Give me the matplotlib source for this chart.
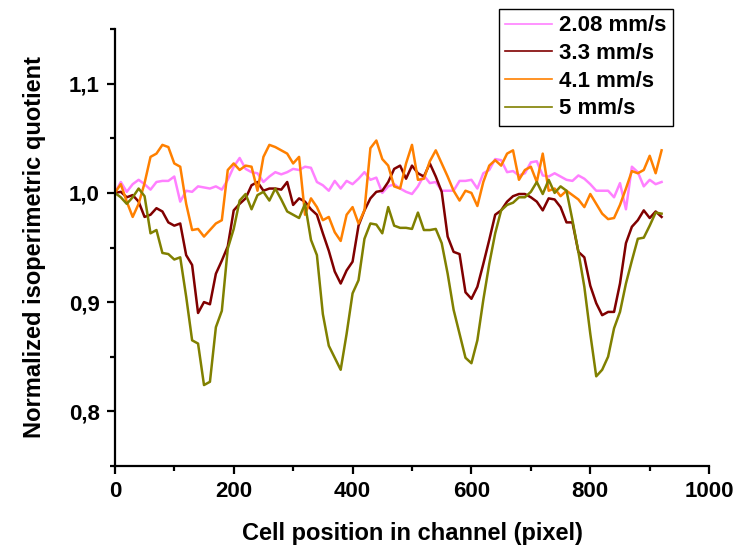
import numpy as np
import matplotlib.pyplot as plt
from matplotlib.ticker import MultipleLocator, FuncFormatter

plt.rcParams["font.family"] = ["Liberation Sans", "DejaVu Sans"]
plt.rcParams["font.weight"] = "bold"

# cell position along the channel, one sample every 10 px
position = np.arange(0, 930, 10)

q_208 = [
    1.000, 1.010, 1.001, 1.008, 1.012, 1.008, 1.003, 1.010, 1.011, 1.011,
    1.015, 0.992, 1.002, 1.001, 1.006, 1.005, 1.004, 1.006, 1.003, 1.012,
    1.024, 1.032, 1.022, 1.019, 1.018, 1.010, 1.015, 1.019, 1.017, 1.019,
    1.022, 1.021, 1.024, 1.023, 1.010, 1.007, 1.002, 1.011, 1.004, 1.011,
    1.008, 1.013, 1.019, 1.012, 1.014, 1.000, 1.006, 1.008, 1.004, 1.001,
    0.999, 1.006, 1.016, 1.009, 1.010, 1.002, 1.002, 1.002, 1.011, 1.011,
    1.012, 1.004, 1.018, 1.021, 1.031, 1.030, 1.019, 1.020, 1.016, 1.018,
    1.028, 1.029, 1.016, 1.015, 1.018, 1.015, 1.012, 1.011, 1.016, 1.013,
    1.008, 1.002, 1.002, 1.002, 0.996, 1.009, 0.985, 1.024, 1.019, 1.006,
    1.012, 1.008, 1.010,
]
q_33 = [
    1.000, 1.001, 0.996, 0.998, 0.992, 0.978, 0.980, 0.986, 0.983, 0.973,
    0.970, 0.972, 0.943, 0.934, 0.890, 0.900, 0.898, 0.926, 0.938, 0.951,
    0.984, 0.990, 0.995, 1.007, 1.010, 1.002, 1.004, 1.004, 1.003, 1.010,
    0.989, 0.995, 0.992, 0.985, 0.980, 0.963, 0.947, 0.928, 0.917, 0.929,
    0.937, 0.970, 0.984, 0.995, 1.001, 1.002, 1.010, 1.022, 1.025, 1.013,
    1.025, 1.018, 1.015, 1.027, 1.015, 1.001, 0.960, 0.946, 0.944, 0.909,
    0.903, 0.914, 0.935, 0.957, 0.980, 0.984, 0.992, 0.997, 0.999, 0.999,
    0.996, 0.992, 0.984, 0.995, 0.994, 0.987, 0.973, 0.973, 0.946, 0.941,
    0.915, 0.899, 0.888, 0.891, 0.891, 0.917, 0.954, 0.969, 0.975, 0.984,
    0.977, 0.983, 0.978,
]
q_41 = [
    1.000, 1.008, 0.992, 0.978, 0.990, 1.009, 1.033, 1.036, 1.044, 1.042,
    1.027, 1.024, 0.990, 0.966, 0.967, 0.960, 0.966, 0.972, 0.975, 1.021,
    1.027, 1.021, 1.025, 1.024, 1.002, 1.033, 1.044, 1.042, 1.039, 1.036,
    1.027, 1.033, 0.980, 0.995, 0.987, 0.975, 0.978, 0.964, 0.956, 0.980,
    0.987, 0.972, 0.984, 1.041, 1.048, 1.031, 1.025, 1.006, 1.004, 1.027,
    1.044, 1.012, 1.013, 1.029, 1.039, 1.027, 1.015, 1.002, 0.993, 1.002,
    1.000, 0.988, 1.010, 1.025, 1.030, 1.025, 1.036, 1.039, 1.012, 1.021,
    1.024, 1.010, 1.036, 1.002, 1.004, 0.997, 1.002, 0.998, 0.994, 0.987,
    0.999, 0.990, 0.981, 0.976, 0.977, 0.989, 1.004, 1.020, 1.018, 1.021,
    1.034, 1.018, 1.039,
]
q_5 = [
    1.000, 0.996, 0.990, 0.996, 1.004, 0.997, 0.963, 0.966, 0.945, 0.944,
    0.939, 0.941, 0.905, 0.865, 0.862, 0.824, 0.827, 0.877, 0.892, 0.949,
    0.967, 0.993, 0.999, 0.985, 0.998, 1.001, 0.993, 1.004, 0.994, 0.983,
    0.980, 0.977, 0.990, 0.957, 0.943, 0.889, 0.860, 0.849, 0.838, 0.871,
    0.908, 0.920, 0.958, 0.972, 0.971, 0.963, 0.987, 0.970, 0.968, 0.968,
    0.967, 0.982, 0.966, 0.966, 0.967, 0.954, 0.926, 0.893, 0.871, 0.849,
    0.844, 0.865, 0.902, 0.935, 0.963, 0.984, 0.989, 0.991, 0.996, 0.996,
    1.001, 1.010, 0.999, 1.012, 1.000, 1.006, 1.002, 0.975, 0.946, 0.914,
    0.871, 0.832, 0.838, 0.850, 0.876, 0.891, 0.917, 0.938, 0.958, 0.959,
    0.970, 0.982, 0.981,
]

series = [
    ("2.08 mm/s", q_208, "#FF80FF"),
    ("3.3 mm/s", q_33, "#800000"),
    ("4.1 mm/s", q_41, "#FF8000"),
    ("5 mm/s", q_5, "#808000"),
]

fig = plt.figure(figsize=(7.41, 5.5), dpi=100)
ax = fig.add_axes([0.155, 0.153, 0.802, 0.794])

for label, values, color in series:
    ax.plot(position, values, color=color, linewidth=1.8, label=label)

ax.set_xlim(0, 1000)
ax.set_ylim(0.75, 1.15)
ax.xaxis.set_major_locator(MultipleLocator(200))
ax.xaxis.set_minor_locator(MultipleLocator(100))
ax.yaxis.set_major_locator(MultipleLocator(0.1))
ax.yaxis.set_minor_locator(MultipleLocator(0.05))
ax.yaxis.set_major_formatter(FuncFormatter(lambda v, _: f"{v:.1f}".replace(".", ",")))

for side in ("top", "right"):
    ax.spines[side].set_visible(False)
for side in ("left", "bottom"):
    ax.spines[side].set_linewidth(1.6)
ax.tick_params(which="major", length=6, width=1.6, labelsize=16, pad=5)
ax.tick_params(which="minor", length=3.5, width=1.6)
for lab in ax.get_xticklabels() + ax.get_yticklabels():
    lab.set_fontweight("bold")

ax.set_xlabel("Cell position in channel (pixel)", fontsize=17, fontweight="bold", labelpad=14)
ax.set_ylabel("Normalized isoperimetric quotient", fontsize=17, fontweight="bold", labelpad=16)

leg = fig.legend(
    loc="upper right",
    bbox_to_anchor=(0.908, 0.984),
    borderaxespad=0,
    fancybox=False,
    edgecolor="black",
    framealpha=1,
    prop={"size": 16, "weight": "bold"},
    handlelength=2.1,
    handletextpad=0.3,
    labelspacing=0.3,
    borderpad=0.3,
)
leg.get_frame().set_linewidth(1.0)
for line in leg.get_lines():
    line.set_linewidth(1.2)

fig.savefig("out.png", dpi=100)
